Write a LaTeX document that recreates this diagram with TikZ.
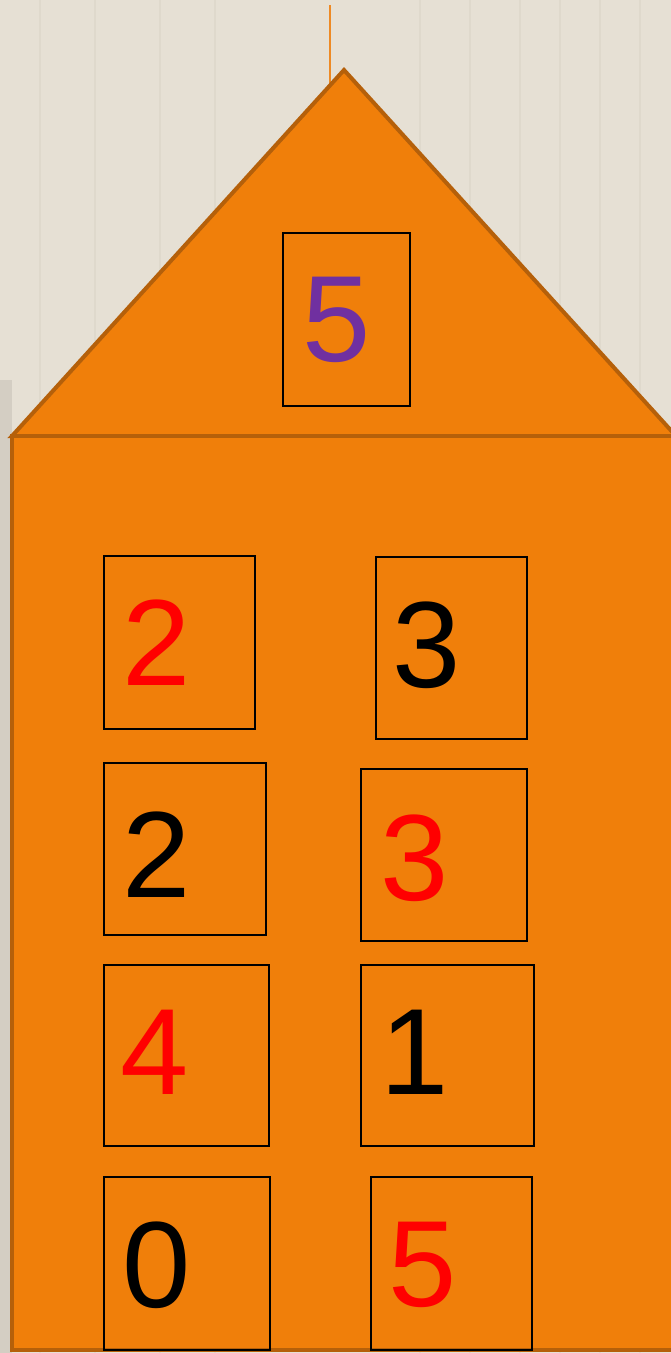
\documentclass[tikz,border=0pt]{standalone}
\usepackage{fontspec}
\setmainfont{Liberation Sans}
\definecolor{wallbg}{HTML}{E6E0D4}
\definecolor{stripe}{HTML}{DFD9CC}
\definecolor{houseorange}{HTML}{F07F0A}
\definecolor{houseedge}{HTML}{B5600A}
\definecolor{antenna}{HTML}{EE8A24}
\definecolor{topviolet}{HTML}{7030A0}
\tikzset{
  houseline/.style={draw=houseedge, line width=3pt, fill=houseorange, line join=miter},
  numbox/.style={draw=black, line width=1.5pt},
  digit/.style={inner sep=0pt, font=\fontsize{92}{92}\selectfont}
}
\begin{document}
\begin{tikzpicture}[x=0.75pt, y=-0.75pt]
        % Background
        \fill[wallbg] (0,0) rectangle (671,1353);
        \useasboundingbox (0,0) rectangle (671,1353);
        \clip (0,0) rectangle (671,1353);
        \foreach \sx in {40,95,160,215,420,470,520,560,600,640}
          \draw[stripe, line width=1pt] (\sx,0) -- (\sx,1353);
        \fill[black!8!wallbg] (0,380) rectangle (12,1353);

        % House
        \draw[antenna, line width=1.5pt] (330,5) -- (330,90);
        \draw[houseline] (12,436) -- (344,70) -- (676,436) -- cycle;
        \draw[houseline] (12,436) rectangle (700,1350);

        % Boxes
        \draw[numbox] (283,233) rectangle (410,406);
        \draw[numbox] (104,556) rectangle (255,729);
        \draw[numbox] (376,557) rectangle (527,739);
        \draw[numbox] (104,763) rectangle (266,935);
        \draw[numbox] (361,769) rectangle (527,941);
        \draw[numbox] (104,965) rectangle (269,1146);
        \draw[numbox] (361,965) rectangle (534,1146);
        \draw[numbox] (104,1177) rectangle (270,1350);
        \draw[numbox] (371,1177) rectangle (532,1350);

        % Numbers
        \node[digit, topviolet] (top) at (337,320) {5};
        \node[digit, red] (a1) at (157,643) {2};
        \node[digit, black] (b1) at (427,645) {3};
        \node[digit, black] (a2) at (157,855) {2};
        \node[digit, red] (b2) at (415,858) {3};
        \node[digit, red] (a3) at (155,1052) {4};
        \node[digit, black] (b3) at (415,1052) {1};
        \node[digit, black] (a4) at (157,1265) {0};
        \node[digit, red] (b4) at (423,1265) {5};
\end{tikzpicture}
\end{document}
